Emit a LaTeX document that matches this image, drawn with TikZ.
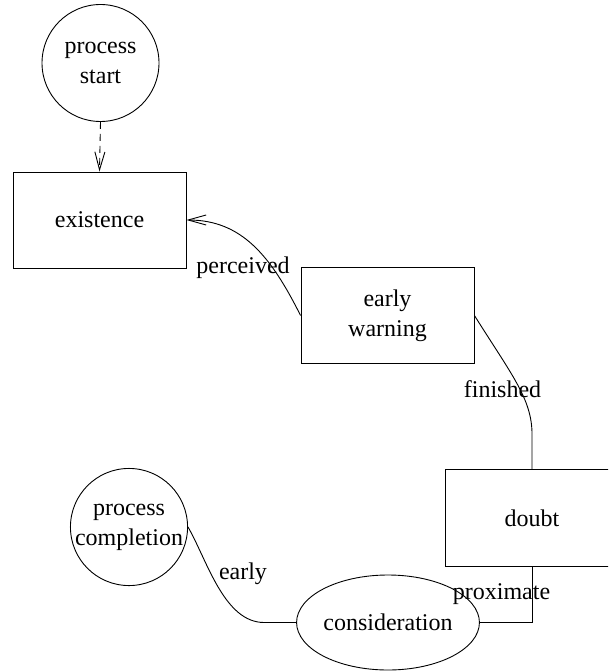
\documentclass[tikz,border=0pt]{standalone}
\usepackage{fontspec}
\setmainfont{Liberation Serif}
\newfontfamily\diagfont{Liberation Serif}
\usetikzlibrary{shapes.geometric,arrows.meta}
\begin{document}
\begin{tikzpicture}[x=1pt,y=-1pt,
  every node/.style={font=\diagfont\fontsize{24}{30}\selectfont, align=center, inner sep=0pt},
  box/.style={draw, line width=0.9pt, rectangle, minimum width=173pt, minimum height=96pt},
  ring/.style={draw, line width=0.9pt, circle, minimum size=117pt},
  oval/.style={draw, line width=0.9pt, ellipse, minimum width=172pt, minimum height=95pt},
  conn/.style={line width=0.9pt},
  tip/.style={-{Straight Barb[length=18pt,width=10pt,line width=0.9pt]}},
  lbl/.style={anchor=base}]
\useasboundingbox (0,0) rectangle (608,671);
\clip (0,0) rectangle (608,671);
\node[ring] (ps) at (100.5,63) {process\\start};
\node[box] (ex) at (99.5,220) {existence};
\node[box] (ew) at (387.5,315.5) {early\\warning};
\node[box, minimum width=174pt, minimum height=97pt] (db) at (532,518) {doubt};
\node[ring, minimum size=116pt] (pc) at (129,527) {process\\completion};
\node[oval] (co) at (388,622.5) {consideration};
\draw[conn, tip, dash pattern=on 7pt off 5pt] (ps.south) -- (ex.north);
\draw[conn, tip] (ew.west) .. controls +(-30,-60) and +(55,0) .. (ex.east);
\draw[conn] (ew.east) .. controls +(37,59) and +(0,-35) .. ([yshift=35pt]db.north) -- (db.north);
\draw[conn] (db.south) |- (co.east);
\draw[conn] (pc.east) .. controls +(19,33) and +(-40,0) .. ([xshift=-32pt]co.west) -- (co.west);
\node[lbl] (lperc) at (243,273) {perceived};
\node[lbl] (lfin) at (502.5,397) {finished};
\node[lbl] (learly) at (243,579) {early};
\node[lbl] (lprox) at (501.5,599) {proximate};
\end{tikzpicture}
\end{document}
